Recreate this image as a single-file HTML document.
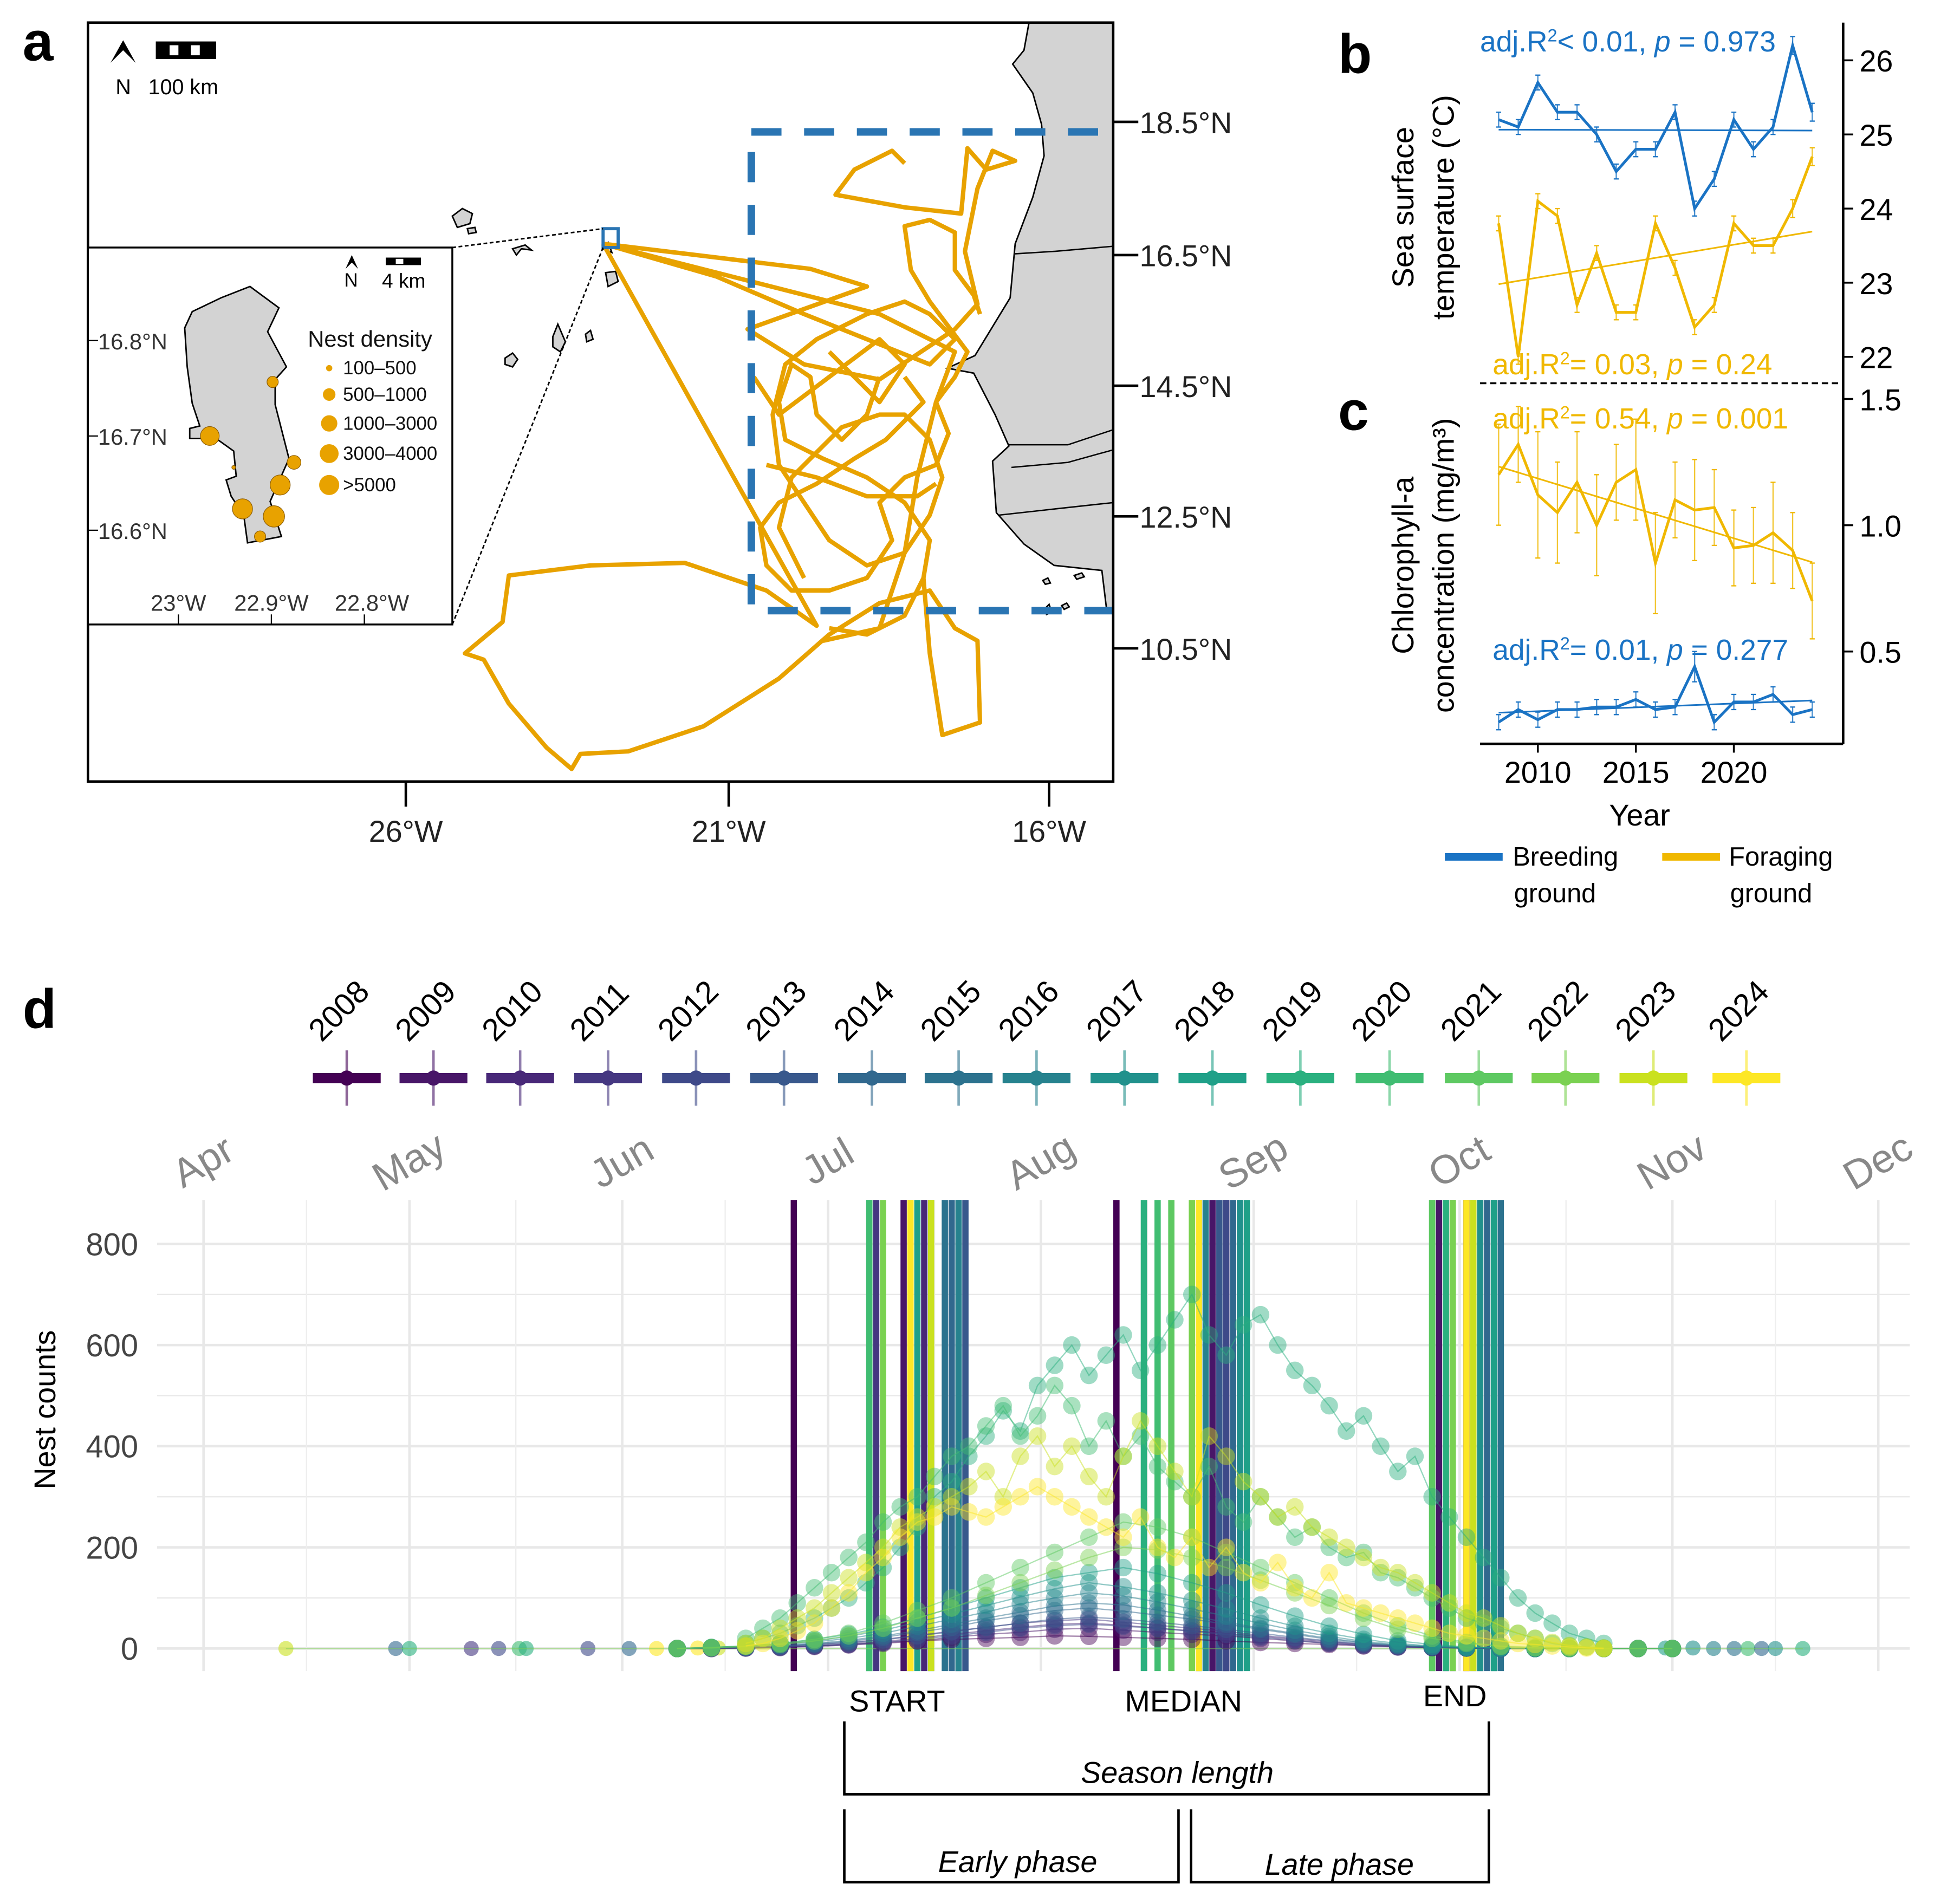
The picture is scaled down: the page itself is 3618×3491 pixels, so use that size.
<!DOCTYPE html>
<html><head><meta charset="utf-8"><style>
html,body{margin:0;padding:0;background:#fff}
svg{display:block}
text{font-family:"Liberation Sans",sans-serif}
</style></head><body>
<svg id="fig" xmlns="http://www.w3.org/2000/svg" width="3618" height="3491" viewBox="0 0 1560 1505" preserveAspectRatio="none">
<rect width="1560" height="1505" fill="#fff"/>
<!-- PANEL A -->
<g>
<text x="18" y="48" font-size="44" font-weight="bold">a</text>
<clipPath id="mapclip"><rect x="70" y="18" width="816" height="604"/></clipPath>
<g clip-path="url(#mapclip)">
<path d="M819,18 L886,18 L886,487 L881,487 L877,454 L839,450 L815,433 L793,408 L790,367 L803,355 L792,330 L775,297 L754,293 L776,283 L804,237 L808,194 L822,157 L831,124 L829,99 L822,74 L806,51 L815,40 Z" fill="#d3d3d3" stroke="#000" stroke-width="1.2"/>
<path d="M808,202 L840,200 L886,196 M803,354 L850,354 L886,342 M805,372 L850,368 L886,358 M795,410 L840,405 L886,400" fill="none" stroke="#000" stroke-width="1.1"/>
<g fill="#d3d3d3" stroke="#000" stroke-width="1.2">
<path d="M360,172 l8,-6 l8,4 l-2,8 l-10,3 z"/><path d="M372,182 l6,-1 l1,4 l-6,1 z"/>
<path d="M408,198 l10,-3 l5,4 l-8,-1 l-4,5 z"/><path d="M480,198 l4,-5 l3,8 z"/>
<path d="M482,217 l8,-1 l2,8 l-8,4 z"/><path d="M440,268 l4,-10 l6,14 l-4,8 l-6,-4 z"/>
<path d="M402,285 l6,-4 l4,5 l-4,6 l-6,-2 z"/><path d="M466,266 l4,-3 l2,7 l-5,2 z"/>
<path d="M830,462 l4,-2 l2,4 l-4,1z"/><path d="M832,484 l3,-3 l2,6 l-4,2z"/><path d="M845,482 l4,-2 l2,3 l-4,2z"/><path d="M855,458 l6,-2 l2,3 l-6,2z"/>
</g>
<g fill="none" stroke="#e8a200" stroke-width="3.5" stroke-linejoin="round">
<path d="M480,194 L645,214 L690,228 L595,262 L640,290 L700,302 L760,262 L778,242 L768,200 L778,150 L790,120 L808,128 L785,135 L770,118 L765,170 L720,165 L665,155 L680,135 L710,120 L720,130"/>
<path d="M480,194 L700,250 L760,280 L745,320 L730,380 L720,440 L700,500 L655,510"/>
<path d="M480,194 L650,498 L610,470 L545,448 L470,450 L405,458 L400,495 L370,520 L385,525 L405,560 L435,595 L455,612 L462,600 L500,598 L560,578 L620,540 L660,505 L700,480 L740,470 L760,500 L778,510 L780,575 L750,585 L740,520 L735,460"/>
<path d="M480,194 L570,220 L640,250 L740,290 L760,270 L740,250 L720,240 L690,250 L650,270 L625,290 L615,330 L620,370 L640,400 L660,430 L690,450 L720,440 L740,410 L750,380 L740,350 L720,330 L700,330 L670,340 L650,360 L630,380 L620,420 L640,460"/>
<path d="M720,300 L735,320 L705,350 L680,365 L650,385 L620,400 L605,420 L610,450 L630,470 L660,470 L690,460 L710,430 L700,400 L720,380 L745,370 L755,345 L745,320 L760,300 L770,280 L755,260 L740,240 L725,215 L720,180 L740,175 L760,185 L760,215 L775,235 L780,250"/>
<path d="M700,300 L690,330 L670,350 L650,330 L645,300 L630,290 L620,320 L625,350 L655,365 L690,380 L720,400 L740,430 L735,460 L720,490 L690,505 L660,500"/>
<path d="M600,300 L620,330 L660,300 L700,270 L720,290 L700,320 L680,300 L660,280 M610,370 L650,380 L690,395 L730,395 L745,385"/>
</g>
<rect x="598" y="105" width="290" height="381" fill="none" stroke="#2a75b3" stroke-width="6" stroke-dasharray="24,18"/>
</g>
<rect x="70" y="18" width="816" height="604" fill="none" stroke="#000" stroke-width="2"/>
<g font-size="24" fill="#222">
<line x1="886" y1="97" x2="906" y2="97" stroke="#000" stroke-width="2"/><text x="907" y="106">18.5°N</text>
<line x1="886" y1="203" x2="906" y2="203" stroke="#000" stroke-width="2"/><text x="907" y="212">16.5°N</text>
<line x1="886" y1="307" x2="906" y2="307" stroke="#000" stroke-width="2"/><text x="907" y="316">14.5°N</text>
<line x1="886" y1="411" x2="906" y2="411" stroke="#000" stroke-width="2"/><text x="907" y="420">12.5°N</text>
<line x1="886" y1="516" x2="906" y2="516" stroke="#000" stroke-width="2"/><text x="907" y="525">10.5°N</text>
</g>
<g font-size="24" fill="#222" text-anchor="middle">
<line x1="323" y1="622" x2="323" y2="642" stroke="#000" stroke-width="2"/><text x="323" y="670">26°W</text>
<line x1="580" y1="622" x2="580" y2="642" stroke="#000" stroke-width="2"/><text x="580" y="670">21°W</text>
<line x1="835" y1="622" x2="835" y2="642" stroke="#000" stroke-width="2"/><text x="835" y="670">16°W</text>
</g>
<g>
<path d="M88,50 L98,32 L108,50 L98,40 Z" fill="#000"/>
<rect x="124" y="33" width="48" height="14" fill="#000"/><rect x="135" y="36" width="7" height="8" fill="#fff"/><rect x="152" y="36" width="7" height="8" fill="#fff"/>
<text x="92" y="75" font-size="17">N</text><text x="118" y="75" font-size="17">100 km</text>
</g>
<rect x="480" y="182" width="12" height="15" fill="none" stroke="#2a75b3" stroke-width="2.5"/>
<line x1="360" y1="197" x2="480" y2="182" stroke="#000" stroke-width="1.2" stroke-dasharray="3,2"/>
<line x1="360" y1="497" x2="480" y2="197" stroke="#000" stroke-width="1.2" stroke-dasharray="3,2"/>
<g>
<rect x="70" y="197" width="290" height="300" fill="#fff" stroke="#000" stroke-width="1.5"/>
<path d="M199,228 L203,231 L222,245 L213,264 L228,292 L219,302 L219,322 L230,365 L215,399 L224,427 L197,432 L194,410 L184,395 L180,382 L188,379 L186,359 L172,349 L151,349 L151,341 L159,339 L153,321 L149,292 L147,261 L153,248 L176,237 Z" fill="#d3d3d3" stroke="#000" stroke-width="1.2"/>
<g fill="#e8a200" stroke="#8a5a00" stroke-width="0.5">
<circle cx="167" cy="347" r="7.5"/><circle cx="217" cy="304" r="4.5"/><circle cx="234" cy="368" r="5.5"/><circle cx="223" cy="386" r="8"/><circle cx="193" cy="405" r="8"/><circle cx="218" cy="411" r="8.5"/><circle cx="207" cy="427" r="4.5"/><circle cx="186" cy="372" r="1.5"/>
</g>
<path d="M275,214 L280,203 L285,214 L280,209 Z" fill="#000"/><text x="274" y="228" font-size="15">N</text>
<rect x="307" y="205" width="28" height="6" fill="#000"/><rect x="315" y="206" width="6" height="4" fill="#fff"/><text x="304" y="229" font-size="16">4 km</text>
<text x="245" y="276" font-size="18" fill="#111">Nest density</text>
<g font-size="15" fill="#111">
<circle cx="262" cy="293" r="2.5" fill="#e8a200"/><text x="273" y="298">100–500</text>
<circle cx="262" cy="314" r="5" fill="#e8a200"/><text x="273" y="319">500–1000</text>
<circle cx="262" cy="337" r="6.5" fill="#e8a200"/><text x="273" y="342">1000–3000</text>
<circle cx="262" cy="361" r="7.5" fill="#e8a200"/><text x="273" y="366">3000–4000</text>
<circle cx="262" cy="386" r="8" fill="#e8a200"/><text x="273" y="391">&gt;5000</text>
</g>
<g font-size="18" fill="#333">
<line x1="70" y1="271" x2="78" y2="271" stroke="#000"/><text x="78" y="278">16.8°N</text>
<line x1="70" y1="347" x2="78" y2="347" stroke="#000"/><text x="78" y="354">16.7°N</text>
<line x1="70" y1="422" x2="78" y2="422" stroke="#000"/><text x="78" y="429">16.6°N</text>
<g text-anchor="middle"><text x="142" y="486">23°W</text><text x="216" y="486">22.9°W</text><text x="296" y="486">22.8°W</text></g>
<line x1="142" y1="489" x2="142" y2="497" stroke="#000"/><line x1="216" y1="489" x2="216" y2="497" stroke="#000"/><line x1="290" y1="489" x2="290" y2="497" stroke="#000"/>
</g>
</g>
</g>

<!-- PANEL B/C -->
<g id="panelbc">
<text x="1065" y="58" font-size="44" font-weight="bold">b</text>
<text x="1065" y="342" font-size="44" font-weight="bold">c</text>
<text transform="translate(1125,165) rotate(-90)" text-anchor="middle" font-size="24">Sea surface</text>
<text transform="translate(1157,165) rotate(-90)" text-anchor="middle" font-size="24">temperature (°C)</text>
<text transform="translate(1125,450) rotate(-90)" text-anchor="middle" font-size="24">Chlorophyll-a</text>
<text transform="translate(1157,450) rotate(-90)" text-anchor="middle" font-size="24">concentration (mg/m³)</text>
<line x1="1467" y1="18" x2="1467" y2="592" stroke="#000" stroke-width="2"/>
<line x1="1178" y1="592" x2="1467" y2="592" stroke="#000" stroke-width="2"/>
<line x1="1178" y1="305" x2="1467" y2="305" stroke="#000" stroke-width="1.5" stroke-dasharray="5,3"/>
<text x="1305" y="657" font-size="24" text-anchor="middle">Year</text>
<text x="1178" y="41" font-size="23" fill="#1a73c4">adj.R<tspan dy="-8" font-size="14">2</tspan><tspan dy="8">&lt; 0.01, </tspan><tspan font-style="italic">p</tspan> = 0.973</text>
<text x="1188" y="298" font-size="23" fill="#f0b800">adj.R<tspan dy="-8" font-size="14">2</tspan><tspan dy="8">= 0.03, </tspan><tspan font-style="italic">p</tspan> = 0.24</text>
<text x="1188" y="341" font-size="23" fill="#f0b800">adj.R<tspan dy="-8" font-size="14">2</tspan><tspan dy="8">= 0.54, </tspan><tspan font-style="italic">p</tspan> = 0.001</text>
<text x="1188" y="525" font-size="23" fill="#1a73c4">adj.R<tspan dy="-8" font-size="14">2</tspan><tspan dy="8">= 0.01, </tspan><tspan font-style="italic">p</tspan> = 0.277</text>
<g font-size="21">
<line x1="1150" y1="682" x2="1196" y2="682" stroke="#1a73c4" stroke-width="6"/><text x="1204" y="689">Breeding</text><text x="1205" y="718">ground</text>
<line x1="1323" y1="682" x2="1369" y2="682" stroke="#f0b800" stroke-width="6"/><text x="1376" y="689">Foraging</text><text x="1377" y="718">ground</text>
</g>
</g>

<!-- PANEL D -->
<g id="paneld">
<text x="18" y="818" font-size="44" font-weight="bold">d</text>
<text transform="translate(44,1122) rotate(-90)" text-anchor="middle" font-size="24">Nest counts</text>
<g id="dgrid"></g>
<g id="dlines"></g>
<g id="dpoints"></g>
<g id="dlegend"></g>
<g font-size="24">
<text x="714" y="1362" text-anchor="middle">START</text>
<text x="942" y="1362" text-anchor="middle">MEDIAN</text>
<text x="1158" y="1358" text-anchor="middle">END</text>
<path d="M672,1370 L672,1428 L1185,1428 L1185,1370" fill="none" stroke="#000" stroke-width="2"/>
<text x="937" y="1419" text-anchor="middle" font-style="italic">Season length</text>
<path d="M672,1440 L672,1498 L938,1498 L938,1440 M948,1440 L948,1498 L1185,1498 L1185,1440" fill="none" stroke="#000" stroke-width="2"/>
<text x="810" y="1490" text-anchor="middle" font-style="italic">Early phase</text>
<text x="1066" y="1492" text-anchor="middle" font-style="italic">Late phase</text>
</g>
</g>
</svg>
<script>
const NS="http://www.w3.org/2000/svg";
function mk(tag,attrs,parent){const e=document.createElementNS(NS,tag);for(const k in attrs)e.setAttribute(k,attrs[k]);parent.appendChild(e);return e;}

// ---- Panel b/c data ----
const years=[2008,2009,2010,2011,2012,2013,2014,2015,2016,2017,2018,2019,2020,2021,2022,2023,2024];
const sstBreeding=[25.2,25.1,25.7,25.3,25.3,25.0,24.5,24.8,24.8,25.3,24.0,24.4,25.2,24.8,25.1,26.2,25.3];
const sstForaging=[23.8,22.0,24.1,23.9,22.7,23.4,22.6,22.6,23.8,23.2,22.4,22.7,23.8,23.5,23.5,24.0,24.7];
const chlForaging=[1.20,1.32,1.12,1.05,1.17,1.00,1.17,1.22,0.85,1.10,1.06,1.07,0.91,0.92,0.97,0.90,0.70];
const chlBreeding=[0.22,0.27,0.23,0.27,0.27,0.28,0.28,0.31,0.27,0.28,0.44,0.22,0.30,0.30,0.33,0.25,0.27];
const sstErr=[0.1,0.1,0.1,0.1,0.1,0.1,0.1,0.1,0.1,0.1,0.1,0.1,0.1,0.1,0.1,0.12,0.12];
const chlErrF=[0.2,0.15,0.25,0.2,0.2,0.2,0.15,0.2,0.2,0.15,0.2,0.15,0.15,0.15,0.2,0.15,0.15];
const chlErrB=[0.03,0.03,0.03,0.03,0.03,0.03,0.03,0.03,0.03,0.03,0.06,0.03,0.03,0.03,0.03,0.03,0.03];
const sstTicks=[22,23,24,25,26];
const chlTicks=[0.5,1.0,1.5];
const yearTicks=[2010,2015,2020];
const BLUE="#1a73c4",YEL="#f0b800";
const xY=y=>1224+(y-2010)*15.6;
const ySST=v=>107-(v-25)*59;
const yChl=v=>418-(v-1)*201;
const bc=document.getElementById('panelbc');
sstTicks.forEach(t=>{mk('line',{x1:1467,y1:ySST(t),x2:1475,y2:ySST(t),stroke:'#000','stroke-width':1.5},bc);
 const tx=mk('text',{x:1480,y:ySST(t)+9,'font-size':24},bc);tx.textContent=t;});
chlTicks.forEach(t=>{mk('line',{x1:1467,y1:yChl(t),x2:1475,y2:yChl(t),stroke:'#000','stroke-width':1.5},bc);
 const tx=mk('text',{x:1480,y:yChl(t)+9,'font-size':24},bc);tx.textContent=t.toFixed(1);});
yearTicks.forEach(t=>{mk('line',{x1:xY(t),y1:592,x2:xY(t),y2:599,stroke:'#000','stroke-width':1.5},bc);
 const tx=mk('text',{x:xY(t),y:623,'font-size':24,'text-anchor':'middle'},bc);tx.textContent=t;});
function series(vals,errs,sy,col,name){
 const g=mk('g',{},bc);
 
 
 vals.forEach((v,i)=>{const x=xY(years[i]);mk('line',{x1:x,y1:sy(v-errs[i]),x2:x,y2:sy(v+errs[i]),stroke:col,'stroke-width':1,opacity:0.8},g);
  mk('line',{x1:x-2,y1:sy(v-errs[i]),x2:x+2,y2:sy(v-errs[i]),stroke:col,'stroke-width':1},g);
  mk('line',{x1:x-2,y1:sy(v+errs[i]),x2:x+2,y2:sy(v+errs[i]),stroke:col,'stroke-width':1},g);});
 mk('polyline',{points:vals.map((v,i)=>xY(years[i])+','+sy(v)).join(' '),fill:'none',stroke:col,'stroke-width':2.2},g);
 const n=vals.length,mx=years.reduce((a,b)=>a+b)/n,my=vals.reduce((a,b)=>a+b)/n;
 let sxy=0,sxx=0;years.forEach((y,i)=>{sxy+=(y-mx)*(vals[i]-my);sxx+=(y-mx)**2;});
 const b=sxy/sxx,a=my-b*mx;
 mk('line',{x1:xY(2008),y1:sy(a+b*2008),x2:xY(2024),y2:sy(a+b*2024),stroke:col,'stroke-width':1.3},g);
}
series(sstBreeding,sstErr,ySST,BLUE,'sst-breeding-line');
series(sstForaging,sstErr,ySST,YEL,'sst-foraging-line');
series(chlForaging,chlErrF,yChl,YEL,'chl-foraging-line');
series(chlBreeding,chlErrB,yChl,BLUE,'chl-breeding-line');

// ---- Panel d data ----
const dYears=[2008,2009,2010,2011,2012,2013,2014,2015,2016,2017,2018,2019,2020,2021,2022,2023,2024];
const viridis=["#440154","#481668","#482878","#453781","#3e4989","#38588c","#31688e","#2c728e","#26828e","#21918c","#1fa088","#2ab07f","#40bd72","#5ec962","#7ad151","#cae11f","#fde725"];
const startDay=[177,193,196,189,201,202,200,199,201,197,195,188,188,194,190,197,194];
const medianDay=[224,238,240,236,240,239,241,242,237,242,243,228,230,232,235,236,236];
const endDay=[275,271,273,272,277,276,278,280,279,277,279,272,270,270,273,276,275];
const countStart=[160,160,160,160,160,160,160,160,160,160,160,170,170,160,160,170,170];
const countStep=[5,5,5,5,5,5,5,5,5,5,5,2.5,2.5,5,5,2.5,2.5];
const counts=[
[0,1,2,3,5,8,12,15,18,20,22,25,24,22,20,18,15,12,10,8,5,3,2,1,0,0,0,0,0,0],
[0,0,1,2,4,7,10,15,22,28,32,38,40,36,32,28,25,20,15,10,6,4,2,1,0,0,0,0,0,0],
[0,0,1,3,5,9,14,20,28,35,42,48,50,46,40,35,30,24,18,12,8,4,2,1,0,0,0,0,0,0],
[0,1,2,4,8,12,18,26,34,42,50,55,58,52,46,40,34,26,20,14,8,5,3,1,0,0,0,0,0,0],
[0,0,1,2,5,8,12,18,25,32,40,45,48,44,40,34,28,22,16,10,6,3,2,1,0,0,0,0,0,0],
[0,1,2,4,7,11,17,25,33,42,50,58,62,58,52,45,38,30,22,15,9,5,3,1,0,0,0,0,0,0],
[0,1,3,5,9,14,22,32,42,55,65,75,80,74,66,58,48,38,28,18,11,6,3,1,0,0,0,0,0,0],
[0,1,3,6,10,16,25,35,48,60,72,84,90,86,76,64,52,40,30,20,12,6,3,1,0,0,0,0,0,0],
[0,2,4,8,13,20,30,44,58,72,88,100,110,104,92,78,64,50,36,24,14,8,4,2,1,0,0,0,0,0],
[0,2,5,9,15,24,36,52,68,85,102,118,130,122,110,95,78,60,44,30,18,10,5,2,1,0,0,0,0,0],
[0,2,5,10,18,28,42,60,80,100,120,140,150,160,148,130,110,86,64,44,28,15,8,3,1,0,0,0,0,0],
[10,20,30,45,60,80,100,130,160,200,240,300,330,380,420,470,430,520,560,600,540,580,620,550,600,650,700,620,580,640,660,600,550,520,480,430,460,400,350,380,300,260,220,180,140,100,70,50,30,20,10],
[20,40,60,90,120,150,180,210,250,280,300,340,380,400,440,480,420,460,520,480,400,450,380,420,360,330,300,360,280,250,300,260,220,240,200,180,190,150,140,120,100,80,60,50,40,30,20,10,5,3,1],
[0,2,5,10,18,30,50,75,100,130,160,190,220,250,240,220,190,160,130,100,70,45,25,12,5,2,1,0,0,0],
[0,1,4,8,15,25,40,60,80,105,130,155,180,200,195,180,160,135,110,85,60,38,20,10,4,1,0,0,0,0],
[10,20,40,60,80,110,140,170,200,240,260,280,300,320,350,300,380,420,360,400,340,300,380,450,400,350,300,420,380,330,300,260,280,240,220,200,180,160,150,130,110,90,70,60,45,30,20,12,6,3,1],
[5,10,20,35,50,80,110,150,180,220,250,260,280,270,260,280,300,320,300,280,260,240,220,260,200,180,220,160,200,150,130,170,120,100,150,90,80,70,60,50,40,30,25,20,15,10,8,5,3,1,0]
];
const strayDays=[103,119,121,130,134,137,138,147,153,157,163,166,304,308,311,314,316,318,320,324];
const strayYearIdx=[15,6,11,3,4,12,11,4,6,16,16,15,10,9,8,7,12,6,9,11];
const strayCounts=[0,0,0,0,0,0,0,0,0,0,1,1,1,1,0,0,0,0,0,0];
const nestTicks=[0,200,400,600,800];
const months=["Apr","May","Jun","Jul","Aug","Sep","Oct","Nov","Dec"];
const monthDays=[91,121,152,182,213,244,274,305,335];
const xD=d=>162+(d-91)*5.463;
const yN=v=>1312-v*0.4025;

const grid=document.getElementById('dgrid');
for(let v=0;v<=800;v+=100){mk('line',{x1:125,y1:yN(v),x2:1520,y2:yN(v),stroke:'#e8e8e8','stroke-width':v%200?1:2},grid);}
for(let i=0;i<monthDays.length;i++){mk('line',{x1:xD(monthDays[i]),y1:955,x2:xD(monthDays[i]),y2:1330,stroke:'#e8e8e8','stroke-width':2},grid);
 if(i<monthDays.length-1){const mid=(monthDays[i]+monthDays[i+1])/2;mk('line',{x1:xD(mid),y1:955,x2:xD(mid),y2:1330,stroke:'#eeeeee','stroke-width':1},grid);}}
nestTicks.forEach(t=>{const tx=mk('text',{x:110,y:yN(t)+9,'font-size':25,'text-anchor':'end',fill:'#444'},grid);tx.textContent=t;});
months.forEach((m,i)=>{const x=xD(monthDays[i]);const tx=mk('text',{x:x,y:935,'font-size':32,'text-anchor':'middle',fill:'#888',transform:`rotate(-30 ${x} 925)`},grid);tx.textContent=m;});

const lines=document.getElementById('dlines');
dYears.forEach((y,i)=>{[startDay[i],medianDay[i],endDay[i]].forEach(d=>{
 const l=mk('line',{x1:xD(d),y1:955,x2:xD(d),y2:1330,stroke:viridis[i],'stroke-width':5},lines);
 
 });});

const pts=document.getElementById('dpoints');
const sg=mk('g',{},pts);


strayDays.forEach((d,k)=>{mk('circle',{cx:xD(d),cy:yN(strayCounts[k]),r:6,fill:viridis[strayYearIdx[k]],opacity:0.6},sg);});
mk('line',{x1:xD(strayDays[0]),y1:yN(0),x2:xD(strayDays[strayDays.length-1]),y2:yN(0),stroke:'#7ad151','stroke-width':1,opacity:0.5},sg);
dYears.forEach((y,i)=>{
 const g=mk('g',{},pts);
 
 
 const p=counts[i].map((c,j)=>[xD(countStart[i]+j*countStep[i]),yN(c)]);
 mk('polyline',{points:p.map(q=>q.join(',')).join(' '),fill:'none',stroke:viridis[i],'stroke-width':1,opacity:0.5},g);
 p.forEach(q=>{mk('circle',{cx:q[0],cy:q[1],r:7,fill:viridis[i],opacity:0.45},g);});
});

const leg=document.getElementById('dlegend');
const legX=[276,345,414,484,554,624,694,763,825,895,965,1035,1106,1177,1246,1316,1390];
dYears.forEach((y,i)=>{
 const g=mk('g',{},leg);
 
 
 const x=legX[i];
 mk('line',{x1:x-27,y1:858,x2:x+27,y2:858,stroke:viridis[i],'stroke-width':8},g);
 mk('line',{x1:x,y1:836,x2:x,y2:880,stroke:viridis[i],'stroke-width':2,opacity:0.6},g);
 mk('circle',{cx:x,cy:858,r:6,fill:viridis[i]},g);
 const tx=mk('text',{x:x-20,y:830,'font-size':25,transform:`rotate(-45 ${x-20} 830)`},g);tx.textContent=y;
});
</script>
</body></html>
